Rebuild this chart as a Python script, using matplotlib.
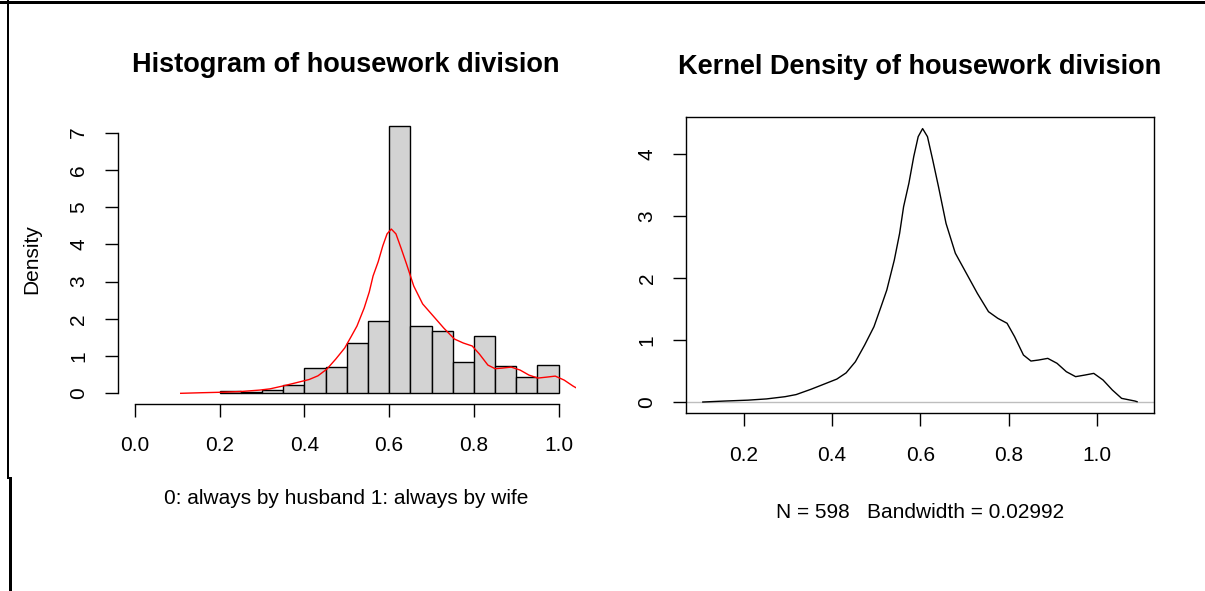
import matplotlib
matplotlib.use("Agg")
import matplotlib.pyplot as plt
from matplotlib.lines import Line2D
import numpy as np

plt.rcParams['font.family'] = ['Liberation Sans', 'DejaVu Sans']

# ---- data ----
bin_edges = [0.20, 0.25, 0.30, 0.35, 0.40, 0.45, 0.50, 0.55, 0.60, 0.65,
             0.70, 0.75, 0.80, 0.85, 0.90, 0.95, 1.00]
hist_density = [0.067, 0.033, 0.100, 0.234, 0.669, 0.702, 1.338, 1.940, 7.190,
                1.806, 1.672, 0.836, 1.538, 0.736, 0.435, 0.769]

kde_x = [0.108, 0.158, 0.21, 0.252, 0.294, 0.319, 0.352, 0.377, 0.411, 0.432,
         0.453, 0.474, 0.495, 0.511, 0.524, 0.541, 0.553, 0.562, 0.574, 0.585,
         0.595, 0.605, 0.616, 0.628, 0.641, 0.658, 0.679, 0.704, 0.729, 0.754,
         0.775, 0.796, 0.813, 0.833, 0.85, 0.867, 0.888, 0.909, 0.93, 0.951,
         0.972, 0.992, 1.013, 1.034, 1.055, 1.085, 1.09]
kde_y = [0.0, 0.016, 0.03, 0.05, 0.086, 0.12, 0.204, 0.274, 0.37, 0.47,
         0.65, 0.92, 1.215, 1.538, 1.806, 2.29, 2.72, 3.15, 3.53, 3.96,
         4.28, 4.41, 4.28, 3.90, 3.47, 2.88, 2.40, 2.075, 1.75, 1.457,
         1.35, 1.27, 1.054, 0.758, 0.661, 0.677, 0.704, 0.624, 0.489, 0.409,
         0.435, 0.462, 0.355, 0.194, 0.059, 0.016, 0.005]

hist_xticks = [0.0, 0.2, 0.4, 0.6, 0.8, 1.0]
hist_yticks = [0, 1, 2, 3, 4, 5, 6, 7]
kde_xticks = [0.2, 0.4, 0.6, 0.8, 1.0]
kde_yticks = [0, 1, 2, 3, 4]

title_left = "Histogram of housework division"
title_right = "Kernel Density of housework division"
xlabel_left = "0: always by husband 1: always by wife"
xlabel_right = "N = 598   Bandwidth = 0.02992"
ylabel_left = "Density"

W, H = 1205, 591
fig = plt.figure(figsize=(W / 100, H / 100), dpi=100)
fig.patch.set_facecolor('white')

def ax_rect(l, t, r, b):
    return [l / W, 1 - b / H, (r - l) / W, (b - t) / H]

FS = 15
TICKLEN = 13 * 0.72

# ---- left: histogram ----
ax1 = fig.add_axes(ax_rect(118, 114.7, 575.6, 404))
lefts = bin_edges[:-1]
widths = np.diff(bin_edges)
ax1.bar(lefts, hist_density, width=widths, align='edge', color='#D3D3D3',
        edgecolor='black', linewidth=1.0)
ax1.plot(kde_x, kde_y, color='red', linewidth=1.0)
ax1.set_xlim(-0.04, 1.04)
ax1.set_ylim(-0.287, 7.48)
ax1.set_xticks(hist_xticks)
ax1.set_xticklabels([f"{v:.1f}" for v in hist_xticks])
ax1.set_yticks(hist_yticks)
ax1.set_yticklabels([str(v) for v in hist_yticks], rotation=90, va='center')
for s in ['top', 'right']:
    ax1.spines[s].set_visible(False)
ax1.spines['left'].set_bounds(0, 7)
ax1.spines['bottom'].set_bounds(0, 1.0)
for s in ['left', 'bottom']:
    ax1.spines[s].set_linewidth(1.0)
ax1.tick_params(axis='both', direction='out', length=TICKLEN, width=1.0,
                labelsize=FS, colors='black')
ax1.tick_params(axis='x', pad=14)
ax1.tick_params(axis='y', pad=12)
ax1.set_facecolor('none')

fig.text(346 / W, 1 - 72 / H, title_left, ha='center', va='baseline',
         fontsize=19.5, fontweight='bold')
fig.text(346 / W, 1 - 499 / H, xlabel_left, ha='center', va='center', fontsize=FS)
fig.text(32 / W, 1 - 259 / H, ylabel_left, ha='center', va='center',
         rotation=90, fontsize=FS)

# ---- right: kernel density ----
ax2 = fig.add_axes(ax_rect(686.2, 116.7, 1154.2, 413.3))
ax2.axhline(0, color='#BEBEBE', linewidth=1.0)
ax2.plot(kde_x, kde_y, color='black', linewidth=1.0)
ax2.set_xlim(0.0704, 1.1287)
ax2.set_ylim(-0.182, 4.602)
ax2.set_xticks(kde_xticks)
ax2.set_xticklabels([f"{v:.1f}" for v in kde_xticks])
ax2.set_yticks(kde_yticks)
ax2.set_yticklabels([str(v) for v in kde_yticks], rotation=90, va='center')
for s in ax2.spines.values():
    s.set_linewidth(1.0)
ax2.tick_params(axis='both', direction='out', length=TICKLEN, width=1.0,
                labelsize=FS, colors='black')
ax2.tick_params(axis='x', pad=14)
ax2.tick_params(axis='y', pad=12)

fig.text(920 / W, 1 - 74 / H, title_right, ha='center', va='baseline',
         fontsize=19.5, fontweight='bold')
fig.text(920 / W, 1 - 512 / H, xlabel_right, ha='center', va='center', fontsize=FS)

# ---- screenshot border lines ----
fig.add_artist(Line2D([0, 1], [1 - 1.5 / H, 1 - 1.5 / H], color='black',
                      linewidth=3 * 0.72, transform=fig.transFigure))
fig.add_artist(Line2D([8 / W, 8 / W], [1, 1 - 478 / H], color='black',
                      linewidth=2 * 0.72, transform=fig.transFigure))
fig.add_artist(Line2D([10 / W, 10 / W], [1 - 478 / H, 0], color='black',
                      linewidth=3 * 0.72, transform=fig.transFigure))

fig.savefig("out.png", dpi=100, facecolor='white')
